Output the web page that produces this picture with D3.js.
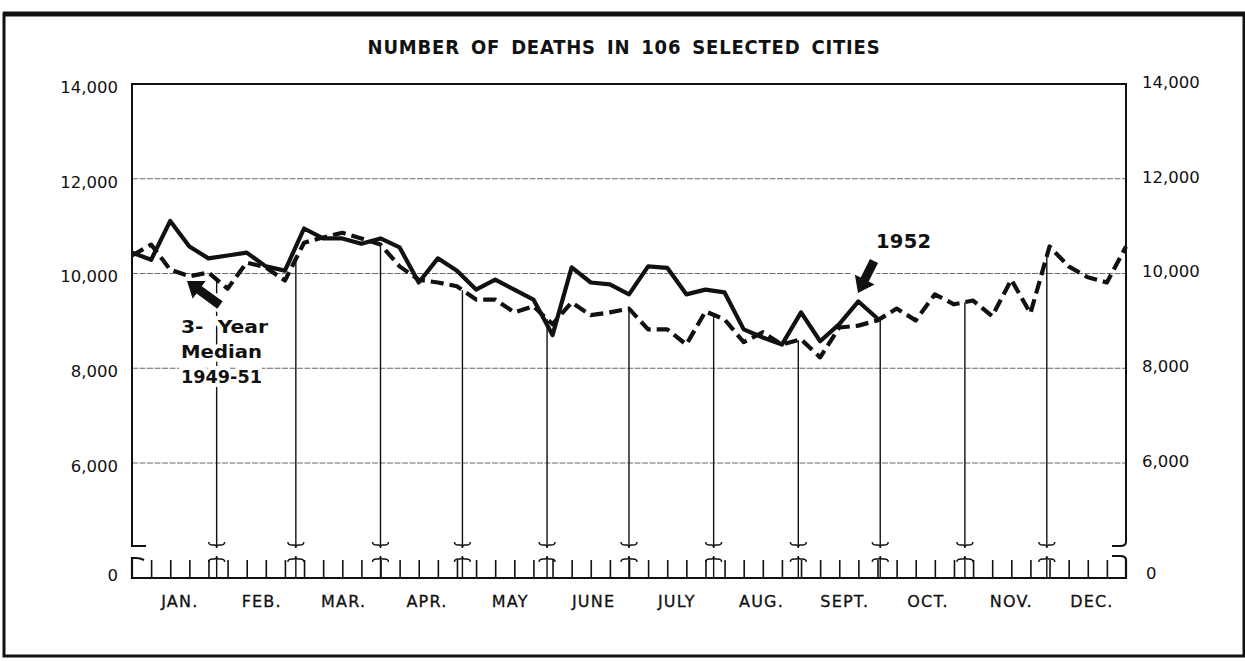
<!DOCTYPE html>
<meta charset="utf-8">
<style>
  html, body { margin:0; background:#fff; overflow:hidden; }
  svg { display:block; }
  text { font-family: "DejaVu Sans", sans-serif; fill:#111; }
</style>
<svg width="1245" height="661"></svg>
<script src="https://d3js.org/d3.v7.min.js"></script>
<script>

var months = ["JAN.", "FEB.", "MAR.", "APR.", "MAY", "JUNE", "JULY", "AUG.", "SEPT.", "OCT.", "NOV.", "DEC."],
    monthDays = [31, 29, 31, 30, 31, 30, 31, 31, 30, 31, 30, 31],
    yTicks = [6000, 8000, 10000, 12000, 14000];

// weekly deaths in 1952, reported through the end of september
var deaths1952 = [
  10440, 10290, 11110, 10570, 10320, 10380, 10440, 10150, 10060, 10950,
  10740, 10740, 10630, 10740, 10550, 9810, 10320, 10060, 9660, 9870,
  9660, 9450, 8700, 10130, 9810, 9770, 9560, 10150, 10120, 9560,
  9660, 9600, 8820, 8650, 8500, 9180, 8570, 8930, 9410, 9050
];

// 3-year median 1949-51, whole year
var median = [
  10380, 10610, 10080, 9940, 10020, 9680, 10230, 10130, 9850, 10650,
  10760, 10860, 10740, 10610, 10150, 9870, 9810, 9730, 9450, 9450,
  9180, 9310, 8930, 9390, 9120, 9180, 9260, 8820, 8820, 8500,
  9200, 9030, 8550, 8760, 8500, 8610, 8230, 8860, 8900, 9010,
  9260, 9010, 9560, 9350, 9430, 9100, 9870, 9160, 10570, 10150,
  9920, 9810, 10570
];

var svg = d3.select("svg");

var pLeft = 132, pRight = 1126, pTop = 84,
    base = 578, breakTop = 546, breakBottom = 558;

var x = d3.scaleLinear().domain([0, 52]).range([pLeft, pRight]);
var y = d3.scaleLinear().domain([6000, 14000]).range([463, pTop]);
var xDay = function(d) { return x(d / 7); };

var ends = Array.from(d3.cumsum(monthDays)),
    starts = [0].concat(ends.slice(0, 11)),
    bounds = ends.slice(0, 11);

function medianAt(day) {
  var w = day / 7, i = Math.floor(w);
  return d3.interpolateNumber(median[i], median[i + 1])(w - i);
}

// outer frame
svg.append("rect")
    .attr("x", 4).attr("y", 14).attr("width", 1240).attr("height", 642)
    .attr("fill", "none").attr("stroke", "#111").attr("stroke-width", 3);
svg.append("line")
    .attr("x1", 3).attr("x2", 1245).attr("y1", 14).attr("y2", 14)
    .attr("stroke", "#111").attr("stroke-width", 5);

// title
svg.append("text")
    .attr("x", 624).attr("y", 54)
    .attr("text-anchor", "middle")
    .style("font-family", "'DejaVu Sans Condensed', 'DejaVu Sans', sans-serif")
    .style("font-weight", "bold").style("font-size", "20px")
    .style("letter-spacing", "0.8px").style("word-spacing", "4px")
    .text("NUMBER OF DEATHS IN 106 SELECTED CITIES");

// gridlines
svg.append("g")
  .selectAll("line")
  .data(yTicks.slice(0, 4))
  .enter().append("line")
    .attr("x1", pLeft).attr("x2", pRight)
    .attr("y1", function(d) { return y(d); })
    .attr("y2", function(d) { return y(d); })
    .attr("stroke", "#6a6a6a").attr("stroke-width", 1.1)
    .attr("stroke-dasharray", "6,1.5");

// upper frame (top + sides) ending in small hooks at the break
svg.append("path")
    .attr("d", "M" + (pLeft + 14) + "," + breakTop + "H" + pLeft + "V" + pTop +
               "H" + pRight + "V" + (breakTop - 4) + "Q" + pRight + "," + breakTop + " " + (pRight - 6) + "," + breakTop +
               "H" + (pRight - 14))
    .attr("fill", "none").attr("stroke", "#111").attr("stroke-width", 2);

// lower frame and baseline
svg.append("path")
    .attr("d", "M" + (pLeft + 12) + "," + (breakBottom + 2) + "Q" + (pLeft + 8) + "," + breakBottom + " " + (pLeft + 4) + "," + breakBottom +
               "H" + pLeft + "V" + base + "H" + pRight + "V" + (breakBottom + 2) +
               "Q" + pRight + "," + (breakBottom - 2) + " " + (pRight - 6) + "," + (breakBottom - 2) + "H" + (pRight - 14))
    .attr("fill", "none").attr("stroke", "#111").attr("stroke-width", 2.2);

// weekly ticks
var weekAxis = svg.append("g")
    .attr("transform", "translate(0," + base + ")")
    .call(d3.axisTop(x).tickValues(d3.range(1, 52)).tickSize(18).tickFormat(""));
weekAxis.select(".domain").remove();
weekAxis.selectAll("line").attr("stroke", "#111").attr("stroke-width", 1.6);

// month labels
var monthAxis = svg.append("g")
    .attr("transform", "translate(5," + base + ")")
    .call(d3.axisBottom(x).tickSize(0).tickPadding(18)
      .tickValues(starts.map(function(s, i) { return (s + Math.min(ends[i], 364)) / 14; }))
      .tickFormat(function(d, i) { return months[i]; }));
monthAxis.select(".domain").remove();
monthAxis.selectAll("text")
    .style("font-size", "16px").style("letter-spacing", "1.2px")
    .attr("fill", "#111").attr("stroke", "#111").attr("stroke-width", 0.3);

// y axes
var yLeft = svg.append("g")
    .attr("transform", "translate(" + pLeft + ",0)")
    .call(d3.axisLeft(y).tickValues(yTicks).tickSize(0).tickPadding(14).tickFormat(d3.format(",")));
yLeft.select(".domain").remove();
yLeft.selectAll("text").attr("dy", "0.5em").attr("fill", "#111").style("font-size", "16.5px");

var yRight = svg.append("g")
    .attr("transform", "translate(" + pRight + ",0)")
    .call(d3.axisRight(y).tickValues(yTicks).tickSize(0).tickPadding(16).tickFormat(d3.format(",")));
yRight.select(".domain").remove();
yRight.selectAll("text").attr("dy", "0.2em").attr("fill", "#111").style("font-size", "16.5px");

svg.append("text").attr("x", pLeft - 14).attr("y", base + 3)
    .attr("text-anchor", "end").style("font-size", "16.5px").text("0");
svg.append("text").attr("x", pRight + 20).attr("y", base + 1)
    .style("font-size", "16.5px").text("0");

// month separators, broken at the axis gap
function brace(cx, cy, dir) {
  return "M" + (cx - 8) + "," + (cy - 3 * dir) +
         "Q" + (cx - 8) + "," + cy + " " + (cx - 4) + "," + cy +
         "H" + (cx - 2) + "Q" + cx + "," + cy + " " + cx + "," + (cy + 3 * dir) +
         "Q" + cx + "," + cy + " " + (cx + 2) + "," + cy +
         "H" + (cx + 4) + "Q" + (cx + 8) + "," + cy + " " + (cx + 8) + "," + (cy - 3 * dir);
}

var seps = svg.append("g")
    .attr("fill", "none").attr("stroke", "#111").attr("stroke-width", 1.4);

seps.selectAll(".upper")
  .data(bounds)
  .enter().append("line")
    .attr("x1", xDay).attr("x2", xDay)
    .attr("y1", function(d) { return y(medianAt(d)); })
    .attr("y2", breakTop - 1);

seps.selectAll(".lower")
  .data(bounds)
  .enter().append("line")
    .attr("x1", xDay).attr("x2", xDay)
    .attr("y1", breakBottom).attr("y2", base);

seps.selectAll(".braceTop")
  .data(bounds)
  .enter().append("path")
    .attr("d", function(d) { return brace(xDay(d), breakTop - 1, 1); });

seps.selectAll(".braceBottom")
  .data(bounds)
  .enter().append("path")
    .attr("d", function(d) { return brace(xDay(d), breakBottom + 1, -1); });

// annotations
function arrow(x1, y1, x2, y2) {
  var dx = x2 - x1, dy = y2 - y1, len = Math.sqrt(dx * dx + dy * dy),
      ux = dx / len, uy = dy / len, nx = -uy, ny = ux,
      hl = 15, sw = 4.5, hw = 11,
      bx = x2 - ux * hl, by = y2 - uy * hl;
  var pts = [
    [x1 + nx * sw, y1 + ny * sw], [bx + nx * sw, by + ny * sw], [bx + nx * hw, by + ny * hw],
    [x2, y2],
    [bx - nx * hw, by - ny * hw], [bx - nx * sw, by - ny * sw], [x1 - nx * sw, y1 - ny * sw]
  ];
  return "M" + pts.join("L") + "Z";
}

var notes = svg.append("g");

[[220, 305, 187, 281], [874, 261, 858, 293]].forEach(function(a) {
  notes.append("path").attr("d", arrow(a[0], a[1], a[2], a[3]))
      .attr("fill", "#111").attr("stroke", "#fff").attr("stroke-width", 6)
      .style("paint-order", "stroke");
});

var legendWidths = [87, 81, 81];
notes.selectAll(".legend")
  .data(["3-  Year", "Median", "1949-51"])
  .enter().append("text")
    .attr("x", 181)
    .attr("y", function(d, i) { return 333 + i * 25; })
    .attr("textLength", function(d, i) { return legendWidths[i]; })
    .attr("lengthAdjust", "spacingAndGlyphs")
    .style("font-weight", "bold").style("font-size", "18.5px")
    .style("white-space", "pre")
    .attr("stroke", "#fff").attr("stroke-width", 8).style("paint-order", "stroke")
    .text(function(d) { return d; });

notes.append("text")
    .attr("x", 876).attr("y", 248)
    .style("font-weight", "bold").style("font-size", "19.5px").style("letter-spacing", "0.3px")
    .attr("stroke", "#fff").attr("stroke-width", 8).style("paint-order", "stroke")
    .text("1952");

// data lines
var line = d3.line()
    .x(function(d, i) { return x(i); })
    .y(function(d) { return y(d); });

svg.append("path")
    .datum(median)
    .attr("d", line)
    .attr("fill", "none").attr("stroke", "#111").attr("stroke-width", 4.2)
    .attr("stroke-dasharray", "13,6").attr("stroke-linejoin", "round");

svg.append("path")
    .datum(deaths1952)
    .attr("d", line)
    .attr("fill", "none").attr("stroke", "#111").attr("stroke-width", 4.2)
    .attr("stroke-linejoin", "round");

</script>
